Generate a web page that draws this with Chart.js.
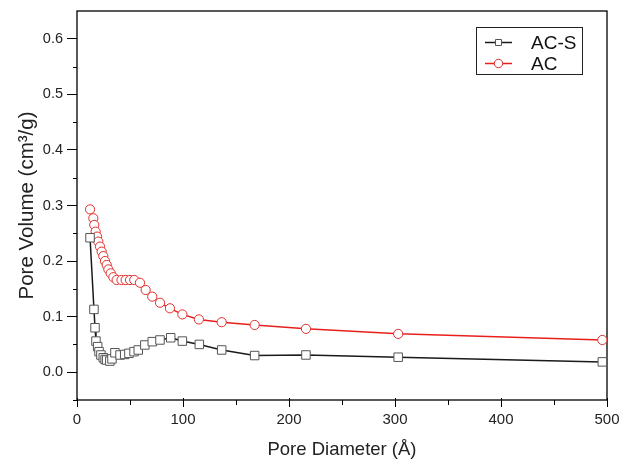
<!DOCTYPE html>
<html><head><meta charset="utf-8">
<script src="https://cdn.jsdelivr.net/npm/chart.js@4/dist/chart.umd.min.js"></script>
<style>html,body{margin:0;padding:0;background:#fff}#wrap{width:619px;height:459px}</style>
</head><body><div id="wrap"><canvas id="c" width="619" height="459"></canvas></div>
<script>
const seriesNames = ["AC-S", "AC"];
const acsX = [12.3,16,17,17.9,19.5,20.8,22.6,24.8,26.5,28,31,33,35.8,40.6,45,49,53.8,57.8,64,71,78.3,88.4,99.4,115.4,136.5,167.6,216,303,495.6];
const acsY = [0.242,0.113,0.080,0.056,0.046,0.037,0.031,0.026,0.023,0.022,0.020,0.024,0.035,0.031,0.032,0.034,0.037,0.040,0.049,0.055,0.058,0.062,0.056,0.050,0.040,0.030,0.031,0.027,0.0186];
const acX = [12.3,15.4,16.3,17.6,18.9,20.1,21.7,23.3,24.8,26.4,28,29.6,31.8,34.3,37.4,42,45.9,50,54,59.4,64.8,71,78.3,87.7,99.4,115,136.5,167.6,216,303,495.6];
const acY = [0.293,0.277,0.265,0.253,0.244,0.235,0.226,0.217,0.209,0.200,0.193,0.185,0.178,0.171,0.166,0.166,0.166,0.166,0.166,0.161,0.148,0.136,0.125,0.115,0.104,0.095,0.090,0.085,0.078,0.069,0.058];
const xTicks = [0,100,200,300,400,500];
const yTicks = [0.0,0.1,0.2,0.3,0.4,0.5,0.6];
const xTitle = "Pore Diameter (Å)";
const yTitle = "Pore Volume (cm³/g)";

const toPts = (xs, ys) => xs.map((x, i) => ({x: x, y: ys[i]}));
const FONT = "'Liberation Sans', Arial, sans-serif";

const framePlugin = {
  id: 'frame',
  beforeDatasetsDraw(chart) {
    const {ctx, chartArea: a, scales} = chart;
    ctx.save();
    ctx.strokeStyle = '#000';
    ctx.lineWidth = 1.3;
    ctx.strokeRect(a.left, a.top, a.right - a.left, a.bottom - a.top);
    ctx.lineWidth = 1;
    ctx.beginPath();
    for (let v = 50; v < 500; v += 100) {
      const px = Math.round(scales.x.getPixelForValue(v)) + 0.5;
      ctx.moveTo(px, a.bottom); ctx.lineTo(px, a.bottom + 5);
    }
    for (let k = 0; k < 7; k++) {
      const py = Math.round(scales.y.getPixelForValue(-0.05 + 0.1 * k)) + 0.5;
      ctx.moveTo(a.left, py); ctx.lineTo(a.left - 4, py);
    }
    xTicks.forEach(v => {
      const px = Math.round(scales.x.getPixelForValue(v)) + 0.5;
      ctx.moveTo(px, a.bottom); ctx.lineTo(px, a.bottom - 2);
    });
    ctx.stroke();
    ctx.restore();
  },
  afterDraw(chart) {
    const {ctx} = chart;
    ctx.save();
    const lx = 476, ly = 27, lw = 106, lh = 47;
    ctx.fillStyle = '#fff';
    ctx.fillRect(lx, ly, lw, lh);
    ctx.strokeStyle = '#222';
    ctx.lineWidth = 1;
    ctx.strokeRect(lx + 0.5, ly + 0.5, lw, lh);
    chart.data.datasets.forEach((ds, i) => {
      const y = ly + 15.5 + i * 21;
      ctx.strokeStyle = ds.borderColor;
      ctx.lineWidth = 1.5;
      ctx.beginPath(); ctx.moveTo(485, y); ctx.lineTo(512, y); ctx.stroke();
      ctx.fillStyle = '#fff';
      ctx.strokeStyle = ds.pointBorderColor;
      ctx.lineWidth = 1;
      ctx.beginPath();
      if (ds.pointStyle === 'rect') { ctx.rect(495.5, y - 3, 6, 6); }
      else { ctx.arc(498.5, y, 4.2, 0, Math.PI * 2); }
      ctx.fill(); ctx.stroke();
      ctx.fillStyle = '#111';
      ctx.font = '19px ' + FONT;
      ctx.textBaseline = 'middle';
      ctx.textAlign = 'left';
      ctx.fillText(ds.label, 531, y + 1);
    });
    ctx.restore();
  }
};

new Chart(document.getElementById('c'), {
  type: 'line',
  data: {
    datasets: [
      {label: seriesNames[0], data: toPts(acsX, acsY), borderColor: '#1a1a1a', borderWidth: 1.5,
       pointStyle: 'rect', pointRadius: 6, pointBorderColor: '#555', pointBackgroundColor: '#fff', pointBorderWidth: 1, tension: 0},
      {label: seriesNames[1], data: toPts(acX, acY), borderColor: '#e8201c', borderWidth: 1.5,
       pointStyle: 'circle', pointRadius: 4.6, pointBorderColor: '#e0302c', pointBackgroundColor: '#fff', pointBorderWidth: 1, tension: 0}
    ]
  },
  options: {
    responsive: false,
    animation: false,
    devicePixelRatio: 1,
    layout: {padding: {top: 11, right: 12, left: 0, bottom: 0}},
    plugins: {legend: {display: false}, tooltip: {enabled: false}},
    scales: {
      x: {
        type: 'linear', min: 0, max: 500,
        afterBuildTicks: s => { s.ticks = xTicks.map(v => ({value: v})); },
        afterFit: s => { s.height = 59; s.paddingLeft = 0; s.paddingRight = 0; },
        grid: {display: true, drawOnChartArea: false, tickLength: 7, color: '#000', lineWidth: 1},
        border: {display: false},
        ticks: {color: '#222', font: {family: FONT, size: 15}, padding: 4, maxRotation: 0},
        title: {display: true, text: xTitle, color: '#222', font: {family: FONT, size: 18.5}, padding: {top: 0, bottom: -2}}
      },
      y: {
        type: 'linear', min: -0.05, max: 0.65,
        afterBuildTicks: s => { s.ticks = yTicks.map(v => ({value: v})); },
        afterFit: s => { s.width = 77; s.paddingTop = 0; s.paddingBottom = 0; },
        grid: {display: true, drawOnChartArea: false, tickLength: 10, color: '#000', lineWidth: 1},
        border: {display: false},
        ticks: {color: '#222', font: {family: FONT, size: 14.5}, padding: 4, callback: v => v.toFixed(1)},
        title: {display: true, text: yTitle, color: '#222', font: {family: FONT, size: 20.5}, padding: {top: 15, bottom: 0}}
      }
    }
  },
  plugins: [framePlugin]
});
</script>
</body></html>
